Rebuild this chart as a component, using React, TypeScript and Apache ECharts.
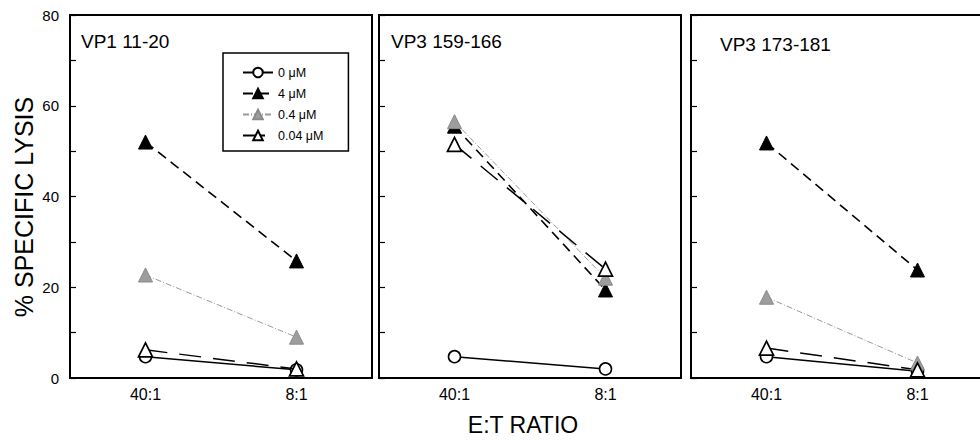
import React, { useEffect, useRef } from "react";
import * as echarts from "echarts";

const categories = ["40:1", "8:1"];
const panelTitles = ["VP1 11-20", "VP3 159-166", "VP3 173-181"];
const seriesNames = ["0 μM", "4 μM", "0.4 μM", "0.04 μM"];
// values[panel][series] = [40:1, 8:1]
const panel1 = [
  [4.7, 1.8],
  [52.0, 25.8],
  [22.7, 9.0],
  [6.2, 2.0],
];
const panel2 = [
  [4.7, 2.0],
  [55.5, 19.4],
  [56.5, 22.0],
  [51.5, 24.0],
];
const panel3 = [
  [4.7, 1.5],
  [51.8, 23.8],
  [17.8, 3.3],
  [6.6, 1.8],
];
const panels = [panel1, panel2, panel3];
const yTicks = [0, 20, 40, 60, 80];

const FONT = "Liberation Sans, Arial, sans-serif";

const styles = [
  {
    symbol: "circle",
    symbolSize: 12,
    itemStyle: { color: "#fff", borderColor: "#000", borderWidth: 1.6 },
    lineStyle: { color: "#000", width: 1.5, type: "solid" },
  },
  {
    symbol: "triangle",
    symbolSize: 14,
    itemStyle: { color: "#000", borderColor: "#000", borderWidth: 1 },
    lineStyle: { color: "#000", width: 1.6, type: [10, 6] },
  },
  {
    symbol: "triangle",
    symbolSize: 14,
    itemStyle: { color: "#9d9d9d", borderColor: "#8a8a8a", borderWidth: 1 },
    lineStyle: { color: "#9a9a9a", width: 1, type: [6, 2, 1, 2] },
  },
  {
    symbol: "triangle",
    symbolSize: 14,
    itemStyle: { color: "#fff", borderColor: "#000", borderWidth: 1.7 },
    lineStyle: { color: "#000", width: 1.5, type: [22, 12] },
  },
];

export default function App() {
  const ref = useRef<HTMLDivElement>(null);
  useEffect(() => {
    if (!ref.current) return;
    const chart = echarts.init(ref.current, undefined, { renderer: "svg" });
    const lefts = [70, 379, 691];
    const grid = lefts.map((l) => ({
      left: l,
      top: 15,
      width: 302,
      height: 363,
      show: true,
      borderColor: "#000",
      borderWidth: 2,
      containLabel: false,
    }));
    const xAxis = lefts.map((_, i) => ({
      type: "category",
      gridIndex: i,
      data: categories,
      boundaryGap: true,
      axisLine: { lineStyle: { color: "#000", width: 2 } },
      axisTick: { alignWithLabel: true, inside: true, length: 6, lineStyle: { color: "#000", width: 1.5 } },
      axisLabel: { color: "#000", fontSize: 16, fontFamily: FONT, margin: 8 },
      splitLine: { show: false },
    }));
    const yAxis = lefts.map((_, i) => ({
      type: "value",
      gridIndex: i,
      min: 0,
      max: 80,
      interval: 10,
      axisLine: { show: true, lineStyle: { color: "#000", width: 2 } },
      axisTick: { show: true, inside: true, length: 6, lineStyle: { color: "#000", width: 1.2 } },
      axisLabel: {
        show: i === 0,
        color: "#000",
        fontSize: 15,
        fontFamily: FONT,
        margin: 11,
        formatter: (v: number) => (yTicks.includes(v) ? String(v) : ""),
      },
      splitLine: { show: false },
    }));
    const series: any[] = [];
    panels.forEach((p, pi) => {
      p.forEach((vals, si) => {
        series.push({
          type: "line",
          name: seriesNames[si],
          xAxisIndex: pi,
          yAxisIndex: pi,
          data: vals,
          symbol: styles[si].symbol,
          symbolSize: styles[si].symbolSize,
          showAllSymbol: true,
          itemStyle: styles[si].itemStyle,
          lineStyle: styles[si].lineStyle,
          z: si === 0 ? 2 : 3,
        });
      });
    });
    chart.setOption({
      animation: false,
      backgroundColor: "#fff",
      grid,
      xAxis,
      yAxis,
      series,
      legend: {
        data: seriesNames,
        orient: "vertical",
        left: 223,
        top: 53,
        selectedMode: false,
        borderColor: "#000",
        borderWidth: 1.5,
        padding: [13, 25, 9, 19],
        itemGap: 8,
        itemWidth: 30,
        itemHeight: 12,
        textStyle: { fontSize: 12.5, fontFamily: FONT, color: "#000" },
      },
      graphic: [
        ...panelTitles.map((t, i) => ({
          type: "text",
          left: [81, 391, 720][i],
          top: [32, 32, 35][i],
          style: { text: t, fontSize: 19, fontFamily: FONT, fill: "#000" },
        })),
        {
          type: "text",
          x: 24,
          y: 207,
          rotation: Math.PI / 2,
          style: {
            text: "% SPECIFIC LYSIS",
            fontSize: 25,
            fontFamily: FONT,
            fill: "#000",
            align: "center",
            verticalAlign: "middle",
          },
        },
        {
          type: "text",
          x: 523,
          y: 425,
          style: {
            text: "E:T RATIO",
            fontSize: 23,
            fontFamily: FONT,
            fill: "#000",
            align: "center",
            verticalAlign: "middle",
          },
        },
      ],
    });
    return () => chart.dispose();
  }, []);
  return (
    <div
      ref={ref}
      style={{ position: "fixed", left: 0, top: 0, width: 1000, height: 444 }}
    />
  );
}
